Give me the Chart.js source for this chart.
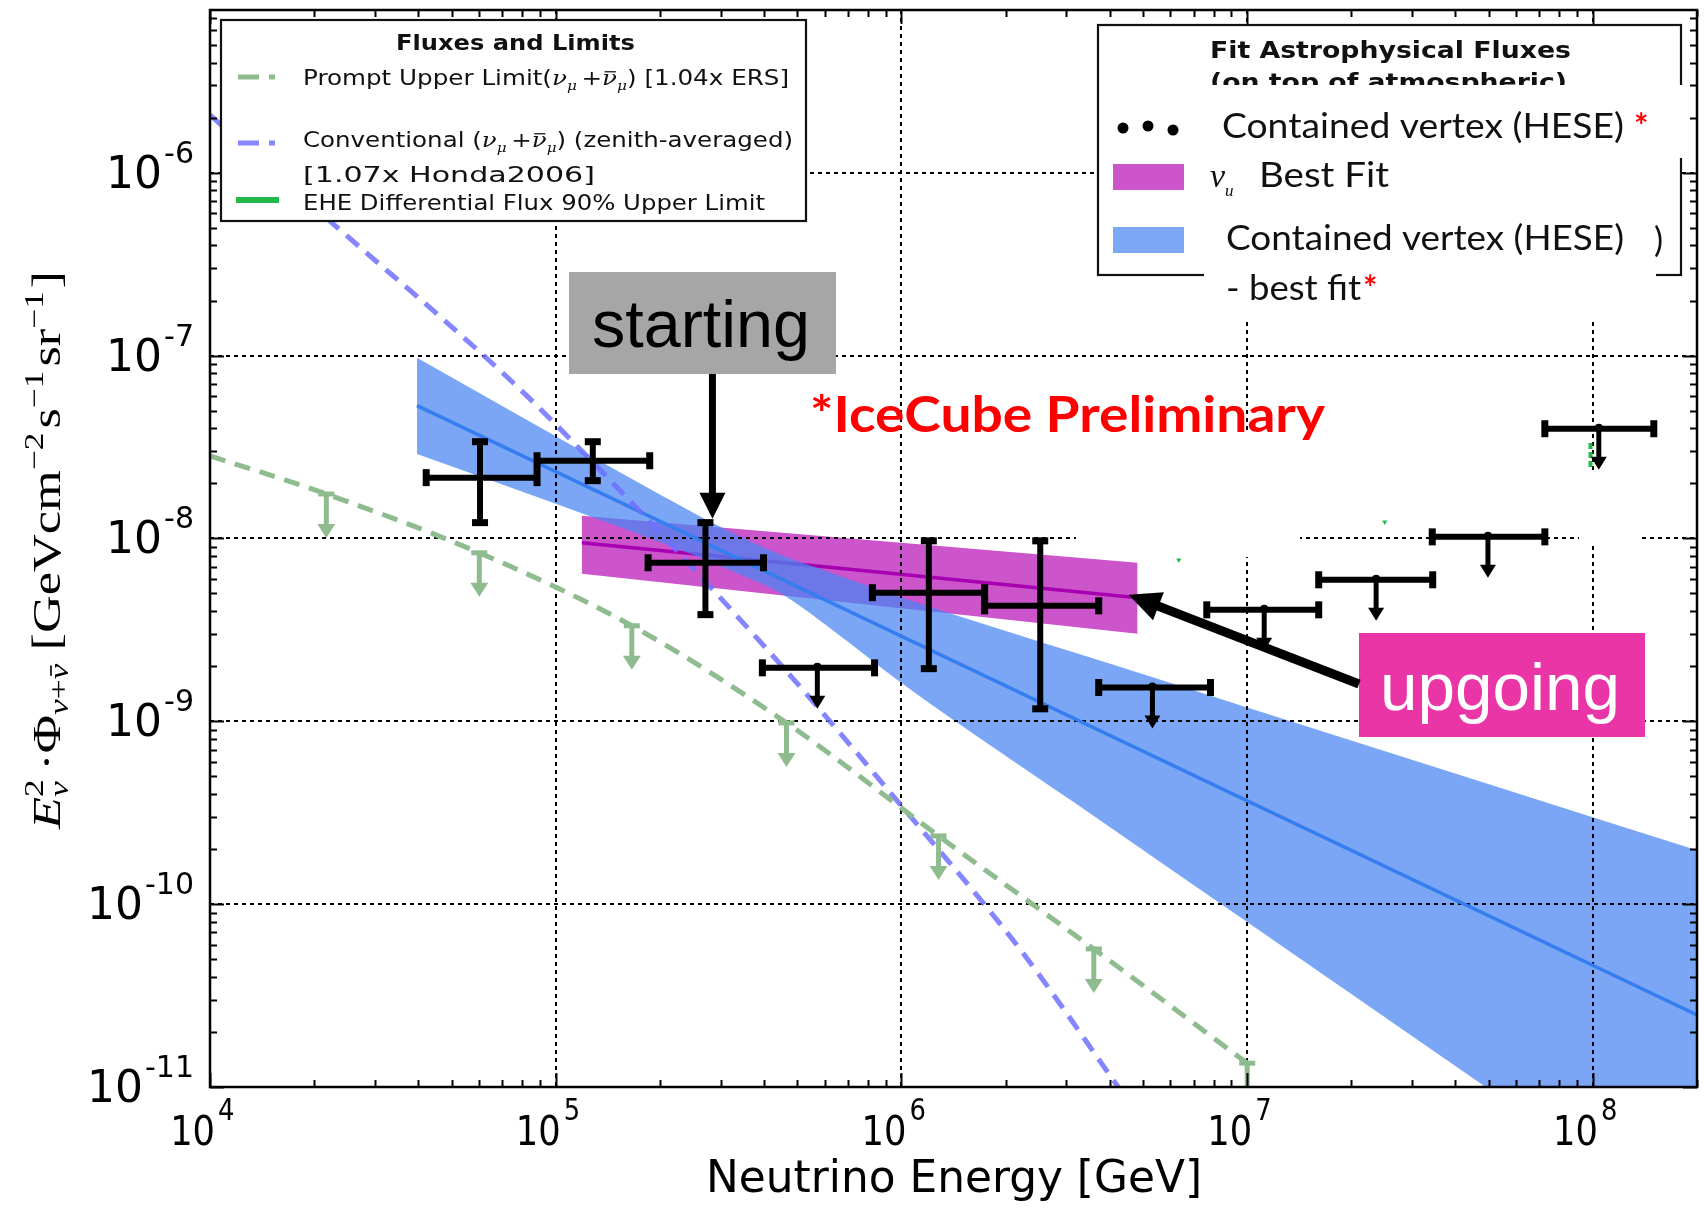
<!DOCTYPE html>
<html>
<head>
<meta charset="utf-8">
<title>Astrophysical neutrino flux</title>
<script src="https://cdn.jsdelivr.net/npm/chart.js@4.4.1/dist/chart.umd.min.js"></script>
<style>
  html, body { margin: 0; padding: 0; background: #ffffff; }
  canvas { display: block; }
</style>
</head>
<body>
<canvas id="flux" width="1706" height="1209"></canvas>
<script>
// ---------------- data (E in GeV, E^2 Phi in GeV cm^-2 s^-1 sr^-1) ----------------
const xTickExponents = [4, 5, 6, 7, 8];
const yTickExponents = [-11, -10, -9, -8, -7, -6];

// contained-vertex (HESE) unfolded points
const heseE   = [6.04e4, 1.28e5, 2.71e5, 5.71e5, 1.20e6, 2.52e6, 5.32e6, 1.12e7, 2.36e7, 4.97e7, 1.04e8];
const heseElo = [4.22e4, 8.83e4, 1.85e5, 3.96e5, 8.24e5, 1.74e6, 3.72e6, 7.64e6, 1.61e7, 3.43e7, 7.26e7];
const heseEhi = [8.83e4, 1.87e5, 3.99e5, 8.36e5, 1.74e6, 3.72e6, 7.83e6, 1.61e7, 3.44e7, 7.26e7, 1.50e8];
const heseF   = [2.15e-8, 2.66e-8, 7.36e-9, 1.96e-9, 5.05e-9, 4.28e-9, 1.53e-9, 4.07e-9, 5.94e-9, 1.02e-8, 3.98e-8];
const heseFlo = [1.22e-8, 2.07e-8, 3.83e-9, null, 1.94e-9, 1.17e-9, null, null, null, null, null];
const heseFhi = [3.38e-8, 3.38e-8, 1.22e-8, null, 9.7e-9, 9.7e-9, null, null, null, null, null];
const heseIsUpperLimit = [false, false, false, true, false, false, true, true, true, true, true];

// HESE power-law best fit and its band
const heseBandE     = [3.97e4, 1.0e5, 2.0e5, 3.16e5, 4.47e5, 6.31e5, 1.0e6, 3.77e6, 1.0e7, 4.93e7, 2.0e8];
const heseBandUpper = [9.73e-8, 3.62e-8, 1.74e-8, 1.10e-8, 8.13e-9, 6.46e-9, 4.75e-9, 2.14e-9, 1.19e-9, 4.57e-10, 1.97e-10];
const heseBandLower = [2.90e-8, 1.55e-8, 9.55e-9, 6.76e-9, 5.01e-9, 3.16e-9, 1.62e-9, 2.86e-10, 7.98e-11, 9.91e-12, 1.59e-12];
const heseFitE      = [3.97e4, 2.0e8];
const heseFitF      = [5.32e-8, 2.48e-11];

// upgoing nu_mu best fit and its band
const numuFitE     = [1.19e5, 4.82e6];
const numuFitUpper = [1.33e-8, 7.36e-9];
const numuFitLower = [6.41e-9, 3.01e-9];
const numuFitF     = [9.46e-9, 4.74e-9];

// atmospheric fluxes
const convE   = [1.0e4, 2.34e4, 6.12e4, 9.44e4, 4.12e5, 1.01e6, 2.22e6, 4.25e6, 5.62e6];
const convF   = [2.07e-6, 5.0e-7, 1.02e-7, 4.69e-8, 2.43e-9, 3.37e-10, 5.56e-11, 9.9e-12, 4.7e-12];
const promptE = [1.0e4, 2.17e4, 6.01e4, 1.66e5, 4.65e5, 1.28e6, 3.60e6, 1.0e7];
const promptF = [2.83e-8, 1.75e-8, 8.34e-9, 3.33e-9, 9.8e-10, 2.36e-10, 5.69e-11, 1.35e-11];
const promptLimitMarkIdx = [1, 2, 3, 4, 5, 6, 7];

// EHE differential limit (visible pieces)
const eheE = [9.84e7, 9.84e7];
const eheF = [3.33e-8, 2.37e-8];
const eheMarkE = [6.34e6, 2.50e7];
const eheMarkF = [7.62e-9, 1.23e-8];

// ---------------- helpers ----------------
const toPts = (xs, ys) => xs.map((v, i) => ({ x: v, y: ys[i] }));
const SANS = '"DejaVu Sans", sans-serif';
const SERIF = '"Liberation Serif", "DejaVu Serif", serif';
const MSERIF = '"DejaVu Serif", serif';
const CAL = 'Lato, "Open Sans", sans-serif';
const ARIAL = '"Liberation Sans", Arial, sans-serif';

const C_GREEN = '#8fbc8f';
const C_CONV = 'rgba(112,112,255,0.85)';
const C_EHE = '#22b84a';
const C_MAGENTA = '#cc55cc';
const C_BLUE_BAND = 'rgba(73,133,241,0.73)';

// draws a sequence of text runs on one baseline; r.na = no advance (stacked sub/sup)
function drawRuns(ctx, runs, x, y, opt = {}) {
  ctx.textBaseline = 'alphabetic';
  ctx.textAlign = 'left';
  const adv = runs.map(r => { ctx.font = r.f; return ctx.measureText(r.t).width; });
  let W = 0;
  runs.forEach((r, i) => { if (!r.na) W += adv[i] + (r.gap || 0); });
  const sx = opt.width ? opt.width / W : (opt.sx || 1);
  ctx.save();
  ctx.translate(x, y);
  ctx.scale(sx, 1);
  let cx = opt.align === 'center' ? -W / 2 : (opt.align === 'right' ? -W : 0);
  runs.forEach((r, i) => {
    ctx.font = r.f;
    ctx.fillStyle = r.c || opt.color || '#000';
    const dy = r.dy || 0;
    ctx.fillText(r.t, cx, dy);
    if (r.bar) {
      const fs = r.fs;
      ctx.fillRect(cx + fs * 0.1, dy - fs * 0.66, adv[i] - fs * 0.15, Math.max(1.2, fs * 0.06));
    }
    if (!r.na) cx += adv[i] + (r.gap || 0);
  });
  ctx.restore();
  return W * sx;
}

function seg(ctx, x1, y1, x2, y2) {
  ctx.beginPath(); ctx.moveTo(x1, y1); ctx.lineTo(x2, y2); ctx.stroke();
}

function arrow(ctx, x1, y1, x2, y2, lw, headLen, headHalf) {
  const dx = x2 - x1, dy = y2 - y1, L = Math.hypot(dx, dy);
  const ux = dx / L, uy = dy / L;
  const bx = x2 - ux * headLen, by = y2 - uy * headLen;
  ctx.lineWidth = lw; ctx.lineCap = 'butt';
  seg(ctx, x1, y1, bx + ux * 2, by + uy * 2);
  ctx.beginPath();
  ctx.moveTo(x2, y2);
  ctx.lineTo(bx - uy * headHalf, by + ux * headHalf);
  ctx.lineTo(bx + uy * headHalf, by - ux * headHalf);
  ctx.closePath(); ctx.fill();
}

// ---------------- drawing plugin ----------------
const IDX_HESE_LINE = 5;

function drawGridAndCovers(chart) {
  const { ctx, chartArea: ca, scales: { x, y } } = chart;
  ctx.save();
  ctx.beginPath(); ctx.rect(ca.left, ca.top, ca.right - ca.left, ca.bottom - ca.top); ctx.clip();
  ctx.strokeStyle = '#000'; ctx.lineWidth = 2; ctx.setLineDash([4, 4]);
  xTickExponents.forEach(e => { const X = Math.round(x.getPixelForValue(10 ** e)); seg(ctx, X, ca.top, X, ca.bottom); });
  yTickExponents.forEach(e => { const Y = Math.round(y.getPixelForValue(10 ** e)); seg(ctx, ca.left, Y, ca.right, Y); });
  ctx.setLineDash([]);
  // blank label areas inside the axes
  ctx.fillStyle = '#ffffff';
  ctx.fillRect(1076, 433, 224, 124);
  ctx.fillRect(1579, 470, 62, 75);
  ctx.restore();
}

function drawMarks(chart) {
  const { ctx, chartArea: ca, scales: { x, y } } = chart;
  const px = v => x.getPixelForValue(v), py = v => y.getPixelForValue(v);
  ctx.save();
  ctx.beginPath(); ctx.rect(ca.left, ca.top, ca.right - ca.left, ca.bottom - ca.top); ctx.clip();

  // prompt limit markers
  ctx.strokeStyle = C_GREEN; ctx.fillStyle = C_GREEN;
  promptLimitMarkIdx.forEach(i => {
    const X = px(promptE[i]), Y = py(promptF[i]);
    ctx.fillRect(X - 8, Y - 2.5, 16, 5);
    ctx.lineWidth = 5; seg(ctx, X, Y, X, Y + 32);
    ctx.beginPath(); ctx.moveTo(X - 9, Y + 30); ctx.lineTo(X + 9, Y + 30); ctx.lineTo(X, Y + 44); ctx.closePath(); ctx.fill();
  });

  // HESE points with error bars and upper limits
  ctx.strokeStyle = '#000'; ctx.fillStyle = '#000'; ctx.lineCap = 'butt';
  heseE.forEach((e, i) => {
    const X = px(e), Y = py(heseF[i]);
    const X1 = px(heseElo[i]), X2 = px(heseEhi[i]);
    ctx.lineWidth = 6; seg(ctx, X1, Y, X2, Y);
    ctx.fillRect(X1 - 3.5, Y - 8.5, 7, 17);
    ctx.fillRect(X2 - 3.5, Y - 8.5, 7, 17);
    if (heseIsUpperLimit[i]) {
      ctx.lineWidth = 5; seg(ctx, X, Y, X, Y + 30);
      ctx.beginPath(); ctx.moveTo(X - 8, Y + 28); ctx.lineTo(X + 8, Y + 28); ctx.lineTo(X, Y + 41); ctx.closePath(); ctx.fill();
      ctx.beginPath(); ctx.arc(X, Y - 1, 4, 0, Math.PI * 2); ctx.fill();
    } else {
      const Y1 = py(heseFhi[i]), Y2 = py(heseFlo[i]);
      ctx.lineWidth = 6; seg(ctx, X, Y1, X, Y2);
      ctx.fillRect(X - 8, Y1 - 3.5, 16, 7);
      ctx.fillRect(X - 8, Y2 - 3.5, 16, 7);
    }
  });
  ctx.restore();

  // frame and log ticks on all four sides
  ctx.save();
  ctx.strokeStyle = '#000'; ctx.lineWidth = 2;
  const xMax = x.max, yMax = y.max;
  for (let e = 4; e <= 8; e++) {
    for (let m = 1; m <= 9; m++) {
      const v = m * 10 ** e; if (v > xMax) break;
      const X = Math.round(px(v)) + 0.5, L = m === 1 ? 14 : 7;
      seg(ctx, X, ca.bottom, X, ca.bottom - L);
      seg(ctx, X, ca.top, X, ca.top + L);
    }
  }
  for (let e = -11; e <= -6; e++) {
    for (let m = 1; m <= 9; m++) {
      const v = m * 10 ** e; if (v > yMax) break;
      const Y = Math.round(py(v)) + 0.5, L = m === 1 ? 14 : 7;
      seg(ctx, ca.left, Y, ca.left + L, Y);
      seg(ctx, ca.right, Y, ca.right - L, Y);
    }
  }
  ctx.lineWidth = 2.5;
  ctx.strokeRect(ca.left, ca.top, ca.right - ca.left, ca.bottom - ca.top);
  ctx.restore();

  // tick labels
  xTickExponents.forEach(e => {
    const X = px(10 ** e);
    ctx.font = `41px ${SANS}`;
    const w10 = ctx.measureText('10').width * 0.86;
    drawRuns(ctx, [{ t: '10', f: `41px ${SANS}` }], X + 5 - w10, ca.bottom + 58, { sx: 0.86 });
    drawRuns(ctx, [{ t: String(e), f: `30px ${SANS}` }], X + 8, ca.bottom + 33, { sx: 0.86 });
  });
  yTickExponents.forEach(e => {
    const Y = py(10 ** e);
    const supW = drawRuns(ctx, [{ t: '-' + String(-e), f: `30px ${SANS}` }], 194, Y - 10, { align: 'right' });
    drawRuns(ctx, [{ t: '10', f: `44px ${SANS}` }], 194 - supW - 2, Y + 15, { align: 'right' });
  });

  // axis titles
  drawRuns(ctx, [{ t: 'Neutrino Energy [GeV]', f: `44px ${SANS}` }], 706, 1192, { width: 496 });
  const S = 40, s = 27;
  const yTitle = [
    { t: 'E', f: `italic ${S}px ${SERIF}` },
    { t: '2', f: `${s}px ${SERIF}`, dy: -17, na: true },
    { t: 'ν', f: `italic ${s}px ${SERIF}`, dy: 8, gap: 8 },
    { t: '·Φ', f: `${S}px ${SERIF}` },
    { t: 'ν', f: `italic ${s}px ${SERIF}`, dy: 8 },
    { t: '+', f: `${s}px ${SERIF}`, dy: 8 },
    { t: 'ν', f: `italic ${s}px ${SERIF}`, dy: 8, bar: true, fs: s, gap: 10 },
    { t: '[GeVcm', f: `${S}px ${SERIF}` },
    { t: '−2', f: `${s}px ${SERIF}`, dy: -17, gap: 3 },
    { t: 's', f: `${S}px ${SERIF}` },
    { t: '−1', f: `${s}px ${SERIF}`, dy: -17, gap: 3 },
    { t: 'sr', f: `${S}px ${SERIF}` },
    { t: '−1', f: `${s}px ${SERIF}`, dy: -17, gap: 2 },
    { t: ']', f: `${S}px ${SERIF}` }
  ];
  ctx.save();
  ctx.translate(60, 550);
  ctx.rotate(-Math.PI / 2);
  drawRuns(ctx, yTitle, 0, 0, { align: 'center', width: 558 });
  ctx.restore();

  // annotations
  ctx.fillStyle = '#a6a6a6';
  ctx.fillRect(569, 272, 267, 102);
  drawRuns(ctx, [{ t: 'starting', f: `67px ${ARIAL}` }], 592, 347, { width: 218 });
  ctx.fillStyle = '#000';
  const sx3 = px(heseE[2]) + 7, sy3 = py(heseFhi[2]) - 4;
  arrow(ctx, sx3, 374, sx3, sy3, 7, 26, 13);

  ctx.fillStyle = '#e935a5';
  ctx.fillRect(1359, 633, 286, 104);
  drawRuns(ctx, [{ t: 'upgoing', f: `67px ${ARIAL}` }], 1380, 710, { width: 240, color: '#ffffff' });
  ctx.fillStyle = '#000';
  arrow(ctx, 1359, 684, px(numuFitE[1]) - 9, py(numuFitF[1]) - 3, 9, 32, 15);

  drawRuns(ctx, [{ t: '*IceCube Preliminary', f: `bold 50px ${CAL}` }], 810, 432, { width: 515, color: '#ff0000' });

  // ---- legend: fluxes and limits ----
  ctx.fillStyle = '#fff'; ctx.fillRect(221, 20, 585, 201);
  ctx.strokeStyle = '#111'; ctx.lineWidth = 2.2; ctx.strokeRect(221, 20, 585, 201);
  drawRuns(ctx, [{ t: 'Fluxes and Limits', f: `bold 22px ${SANS}` }], 515.5, 50, { align: 'center', width: 239, color: '#111' });
  ctx.lineWidth = 5; ctx.lineCap = 'butt';
  ctx.strokeStyle = C_GREEN; seg(ctx, 238, 77, 259, 77); seg(ctx, 269, 77, 275, 77);
  ctx.strokeStyle = C_CONV; seg(ctx, 238, 143, 259, 143); seg(ctx, 269, 143, 275, 143);
  ctx.lineWidth = 6; ctx.strokeStyle = C_EHE; seg(ctx, 236, 200, 279, 200);
  const L = 21, l = 13;
  const numuSum = [
    { t: 'ν', f: `italic ${L}px ${MSERIF}` },
    { t: 'μ', f: `italic ${l}px ${MSERIF}`, dy: 5, gap: 4 },
    { t: '+', f: `${L}px ${MSERIF}` },
    { t: 'ν', f: `italic ${L}px ${MSERIF}`, bar: true, fs: L },
    { t: 'μ', f: `italic ${l}px ${MSERIF}`, dy: 5 }
  ];
  drawRuns(ctx, [{ t: 'Prompt Upper Limit(', f: `${L}px ${SANS}` }, ...numuSum, { t: ') [1.04x ERS]', f: `${L}px ${SANS}` }], 303, 85, { width: 486, color: '#111' });
  drawRuns(ctx, [{ t: 'Conventional (', f: `${L}px ${SANS}` }, ...numuSum, { t: ') (zenith-averaged)', f: `${L}px ${SANS}` }], 303, 147, { width: 490, color: '#111' });
  drawRuns(ctx, [{ t: '[1.07x Honda2006]', f: `${L}px ${SANS}` }], 303, 182, { width: 292, color: '#111' });
  drawRuns(ctx, [{ t: 'EHE Differential Flux 90% Upper Limit', f: `${L}px ${SANS}` }], 303, 210, { width: 462, color: '#111' });

  // ---- legend: fitted astrophysical fluxes ----
  ctx.fillStyle = '#fff'; ctx.fillRect(1098, 25, 583, 250);
  ctx.strokeStyle = '#111'; ctx.lineWidth = 2.2; ctx.strokeRect(1098, 25, 583, 250);
  drawRuns(ctx, [{ t: 'Fit Astrophysical Fluxes', f: `bold 23px ${SANS}` }], 1210, 58, { width: 361, color: '#111' });
  drawRuns(ctx, [{ t: '(on top of atmospheric)', f: `bold 23px ${SANS}` }], 1210, 90, { width: 357, color: '#111' });
  ctx.fillStyle = '#fff';
  ctx.fillRect(1195, 85, 493, 73);
  ctx.fillRect(1204, 158, 452, 162);
  ctx.fillStyle = '#000';
  [[1123, 128], [1148, 126], [1173, 130]].forEach(([cx, cy]) => { ctx.beginPath(); ctx.arc(cx, cy, 5.5, 0, Math.PI * 2); ctx.fill(); });
  ctx.fillStyle = C_MAGENTA; ctx.fillRect(1113, 164, 71, 26);
  ctx.fillStyle = '#7ba7f5'; ctx.fillRect(1113, 227, 71, 26);
  drawRuns(ctx, [{ t: 'Contained vertex (HESE)', f: `34px ${CAL}` }], 1222, 138, { width: 402, color: '#111' });
  drawRuns(ctx, [{ t: '*', f: `bold 34px ${CAL}` }], 1634, 138, { color: '#ff0000' });
  drawRuns(ctx, [{ t: 'ν', f: `italic 34px ${SERIF}` }, { t: 'u', f: `italic 17px ${SERIF}`, dy: 9 }], 1210, 187, { color: '#111' });
  drawRuns(ctx, [{ t: 'Best Fit', f: `34px ${CAL}` }], 1259, 187, { width: 130, color: '#111' });
  drawRuns(ctx, [{ t: 'Contained vertex (HESE)', f: `34px ${CAL}` }], 1226, 250, { width: 398, color: '#111' });
  drawRuns(ctx, [{ t: ')', f: `34px ${CAL}` }], 1654, 252, { color: '#111' });
  drawRuns(ctx, [{ t: '- best fit', f: `34px ${CAL}` }], 1226, 300, { width: 135, color: '#111' });
  drawRuns(ctx, [{ t: '*', f: `bold 34px ${CAL}` }], 1363, 300, { color: '#ff0000' });
}

const overlayPlugin = {
  id: 'fluxOverlay',
  beforeDatasetDraw(chart, args) {
    if (args.index === IDX_HESE_LINE) drawGridAndCovers(chart);
  },
  afterDatasetsDraw(chart) { drawMarks(chart); }
};

// ---------------- chart ----------------
const line = (data, o) => Object.assign({ data, pointRadius: 0, fill: false, tension: 0 }, o);

new Chart(document.getElementById('flux').getContext('2d'), {
  type: 'line',
  data: {
    datasets: [
      line(toPts(numuFitE, numuFitLower), { label: 'numu band low', borderColor: 'rgba(0,0,0,0)', order: 60 }),
      line(toPts(numuFitE, numuFitUpper), { label: 'numu band', borderColor: 'rgba(0,0,0,0)', backgroundColor: C_MAGENTA, fill: 0, order: 59 }),
      line(toPts(numuFitE, numuFitF), { label: 'νμ Best Fit', borderColor: '#a600b0', borderWidth: 3.5, order: 58 }),
      line(toPts(heseBandE, heseBandLower), { label: 'HESE band low', borderColor: 'rgba(0,0,0,0)', cubicInterpolationMode: 'monotone', order: 57 }),
      line(toPts(heseBandE, heseBandUpper), { label: 'HESE band', borderColor: 'rgba(0,0,0,0)', backgroundColor: C_BLUE_BAND, fill: 3, cubicInterpolationMode: 'monotone', order: 56 }),
      line(toPts(heseFitE, heseFitF), { label: 'HESE best fit', borderColor: '#367ef0', borderWidth: 3.5, order: 55 }),
      line(toPts(convE, convF), { label: 'Conventional', borderColor: C_CONV, borderWidth: 5, borderDash: [16, 10], cubicInterpolationMode: 'monotone', order: 54 }),
      line(toPts(promptE, promptF), { label: 'Prompt Upper Limit', borderColor: C_GREEN, borderWidth: 5, borderDash: [16, 10], cubicInterpolationMode: 'monotone', order: 53 }),
      line(toPts(eheE, eheF), { label: 'EHE limit', borderColor: C_EHE, borderWidth: 4, borderDash: [6, 3], order: 52 }),
      line(toPts(eheMarkE, eheMarkF), { label: 'EHE marks', showLine: false, pointRadius: 3, pointStyle: 'triangle', rotation: 180, backgroundColor: C_EHE, borderColor: C_EHE, borderWidth: 0, order: 51 }),
      line(toPts(heseE, heseF), { label: 'Contained vertex (HESE)', showLine: false, pointRadius: 0, order: 50 })
    ]
  },
  options: {
    responsive: false,
    animation: false,
    devicePixelRatio: 1,
    events: [],
    layout: { padding: { left: 210, top: 10, right: 9, bottom: 122 } },
    plugins: { legend: { display: false }, tooltip: { enabled: false } },
    scales: {
      x: { type: 'logarithmic', min: 1e4, max: 2.0e8, bounds: 'data', display: false },
      y: { type: 'logarithmic', min: 1e-11, max: 7.76e-6, bounds: 'data', display: false }
    }
  },
  plugins: [overlayPlugin]
});
</script>
</body>
</html>
